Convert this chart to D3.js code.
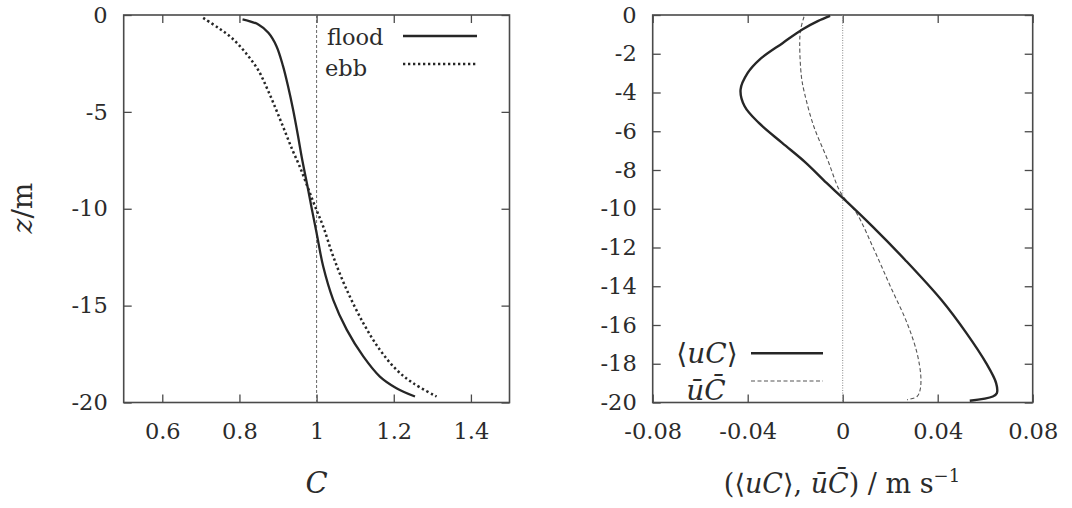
<!DOCTYPE html>
<html>
<head>
<meta charset="utf-8">
<script src="https://cdn.jsdelivr.net/npm/d3@7"></script>
<style>
  body { margin: 0; background: #fff; }
  svg text { font-family: "DejaVu Serif", serif; fill: #2b2b2b; }
</style>
</head>
<body>
<svg id="fig" width="1072" height="508"></svg>
<script>
// left panel: concentration profiles C(z)
const floodZ = [-0.22, -0.49, -0.92, -1.61, -2.64, -3.68, -4.88, -6.26, -7.29, -9.01, -10.05, -11.25, -12.97, -14.7, -16.24, -17.62, -18.66, -19.26, -19.69];
const floodC = [0.808, 0.849, 0.875, 0.896, 0.913, 0.926, 0.939, 0.952, 0.961, 0.978, 0.988, 1.0, 1.017, 1.043, 1.078, 1.121, 1.164, 1.207, 1.255];
const ebbZ = [-0.15, -0.66, -1.18, -1.95, -2.82, -3.85, -4.88, -5.91, -6.95, -7.81, -8.84, -9.88, -10.91, -12.46, -14.18, -15.9, -17.28, -18.31, -19.0, -19.69];
const ebbC = [0.706, 0.745, 0.780, 0.816, 0.848, 0.873, 0.895, 0.916, 0.937, 0.956, 0.976, 0.996, 1.017, 1.043, 1.078, 1.121, 1.164, 1.207, 1.250, 1.311];

// right panel: fluxes
const fluxZ = [-0.05, -0.32, -0.75, -1.44, -2.3, -2.99, -3.85, -4.71, -5.57, -6.6, -7.63, -8.67, -9.44, -10.91, -12.63, -14.7, -16.42, -17.97, -19.0, -19.52, -19.69, -19.91];
const fluxUC = [-0.0053, -0.0105, -0.017, -0.0252, -0.035, -0.040, -0.043, -0.0413, -0.0353, -0.0255, -0.0155, -0.0068, 0.0, 0.0125, 0.0262, 0.0415, 0.0521, 0.0604, 0.0646, 0.0649, 0.0632, 0.0535];
const meanZ = [-0.09, -0.75, -1.44, -3.16, -4.02, -5.74, -7.46, -9.18, -10.22, -12.11, -14.01, -15.9, -17.45, -18.66, -19.34, -19.69, -19.86];
const meanUC = [-0.0163, -0.0177, -0.0181, -0.0174, -0.0161, -0.0122, -0.0064, -0.0008, 0.0058, 0.0132, 0.0201, 0.0271, 0.0313, 0.0329, 0.0326, 0.0313, 0.0271];

// ticks
const leftXTicks = [0.6, 0.8, 1, 1.2, 1.4];
const leftYTicks = [0, -5, -10, -15, -20];
const rightXTicks = [-0.08, -0.04, 0, 0.04, 0.08];
const rightYTicks = [0, -2, -4, -6, -8, -10, -12, -14, -16, -18, -20];

const svg = d3.select("#fig");
const ink = "#262626";
const frameCol = "#4a4a4a";
const yTop = 15, yBottom = 402.5;

const zip = (zs, vs) => zs.map((z, i) => [z, vs[i]]);

function drawPanel(x, y, xTicks, yTicks, xFmt, yFmt) {
  const g = svg.append("g");
  const [x0, x1] = x.range();
  // mirror ticks, pointing inward
  g.append("g").attr("transform", `translate(0,${yBottom})`)
    .call(d3.axisBottom(x).tickValues(xTicks).tickSize(-8).tickPadding(21).tickFormat(xFmt));
  g.append("g").attr("transform", `translate(0,${yTop})`)
    .call(d3.axisTop(x).tickValues(xTicks).tickSize(-8).tickFormat(""));
  g.append("g").attr("transform", `translate(${x0},0)`)
    .call(d3.axisLeft(y).tickValues(yTicks).tickSize(-8).tickPadding(16).tickFormat(yFmt));
  g.append("g").attr("transform", `translate(${x1},0)`)
    .call(d3.axisRight(y).tickValues(yTicks).tickSize(-8).tickFormat(""));
  g.selectAll(".domain").remove();
  g.selectAll(".tick line").attr("stroke", frameCol).attr("stroke-width", 1.3);
  g.selectAll(".tick text").style("font-size", "22.5px").attr("fill", "#2b2b2b");
  g.append("rect")
    .attr("x", x0).attr("y", yTop)
    .attr("width", x1 - x0).attr("height", yBottom - yTop)
    .attr("fill", "none").attr("stroke", frameCol).attr("stroke-width", 1.6);
  return g;
}

// ---------- left panel ----------
const xL = d3.scaleLinear().domain([0.5, 1.5]).range([123.7, 509.5]);
const yL = d3.scaleLinear().domain([-20, 0]).range([yBottom, yTop]);
const gL = drawPanel(xL, yL, leftXTicks, leftYTicks, d => String(d), d => String(d));

gL.append("line")
  .attr("x1", xL(1)).attr("x2", xL(1)).attr("y1", yTop).attr("y2", yBottom)
  .attr("stroke", "#666").attr("stroke-width", 1).attr("stroke-dasharray", "3,2");

const lineL = d3.line().x(d => xL(d[1])).y(d => yL(d[0])).curve(d3.curveCatmullRom.alpha(0.5));
gL.append("path").datum(zip(floodZ, floodC)).attr("d", lineL)
  .attr("fill", "none").attr("stroke", ink).attr("stroke-width", 2.3);
gL.append("path").datum(zip(ebbZ, ebbC)).attr("d", lineL)
  .attr("fill", "none").attr("stroke", ink).attr("stroke-width", 2.5).attr("stroke-dasharray", "2.3,2.7");

// legend
gL.append("text").attr("x", 327).attr("y", 45).style("font-size", "22.5px").text("flood");
gL.append("text").attr("x", 325).attr("y", 76).style("font-size", "22.5px").text("ebb");
gL.append("line").attr("x1", 403).attr("x2", 477).attr("y1", 36).attr("y2", 36)
  .attr("stroke", ink).attr("stroke-width", 2.3);
gL.append("line").attr("x1", 403).attr("x2", 477).attr("y1", 64).attr("y2", 64)
  .attr("stroke", ink).attr("stroke-width", 2.5).attr("stroke-dasharray", "2.3,2.7");

// axis titles
const zt = svg.append("text").attr("transform", "translate(32,208) rotate(-90)")
  .attr("text-anchor", "middle").style("font-size", "28px");
zt.append("tspan").style("font-style", "italic").text("z");
zt.append("tspan").text("/m");
svg.append("text").attr("x", 316.7).attr("y", 493).attr("text-anchor", "middle")
  .style("font-size", "29px").style("font-style", "italic").text("C");

// ---------- right panel ----------
const xR = d3.scaleLinear().domain([-0.08, 0.08]).range([652.7, 1032.7]);
const yR = d3.scaleLinear().domain([-20, 0]).range([yBottom, yTop]);
const gR = drawPanel(xR, yR, rightXTicks, rightYTicks,
  d => (d === 0 ? "0" : d3.format(".2f")(d).replace("−", "-")), d => String(d));

gR.append("line")
  .attr("x1", xR(0)).attr("x2", xR(0)).attr("y1", yTop).attr("y2", yBottom)
  .attr("stroke", "#8a8a8a").attr("stroke-width", 1).attr("stroke-dasharray", "1,1.5");

const lineR = d3.line().x(d => xR(d[1])).y(d => yR(d[0])).curve(d3.curveCatmullRom.alpha(0.5));
gR.append("path").datum(zip(meanZ, meanUC)).attr("d", lineR)
  .attr("fill", "none").attr("stroke", "#555").attr("stroke-width", 1.1).attr("stroke-dasharray", "4,2.5");
gR.append("path").datum(zip(fluxZ, fluxUC)).attr("d", lineR)
  .attr("fill", "none").attr("stroke", ink).attr("stroke-width", 2.4);

// legend
const l1 = gR.append("text").attr("x", 707).attr("y", 363).attr("text-anchor", "middle").style("font-size", "28px");
l1.append("tspan").text("⟨");
l1.append("tspan").style("font-style", "italic").text("uC");
l1.append("tspan").text("⟩");
gR.append("text").attr("x", 706).attr("y", 400).attr("text-anchor", "middle")
  .style("font-size", "28px").style("font-style", "italic").text("\u016B" + "C\u0304");
gR.append("line").attr("x1", 751).attr("x2", 823).attr("y1", 353.3).attr("y2", 353.3)
  .attr("stroke", ink).attr("stroke-width", 2.4);
gR.append("line").attr("x1", 751).attr("x2", 823).attr("y1", 381).attr("y2", 381)
  .attr("stroke", "#555").attr("stroke-width", 1.1).attr("stroke-dasharray", "4,2.5");

// x title
const xt = svg.append("text").attr("x", 842).attr("y", 493).attr("text-anchor", "middle").style("font-size", "27px");
xt.append("tspan").text("(⟨");
xt.append("tspan").style("font-style", "italic").text("uC");
xt.append("tspan").text("⟩, ");
xt.append("tspan").style("font-style", "italic").text("\u016B" + "C\u0304");
xt.append("tspan").text(")  /  m s");
xt.append("tspan").attr("dy", -11).style("font-size", "18px").text("−1");
</script>
</body>
</html>
